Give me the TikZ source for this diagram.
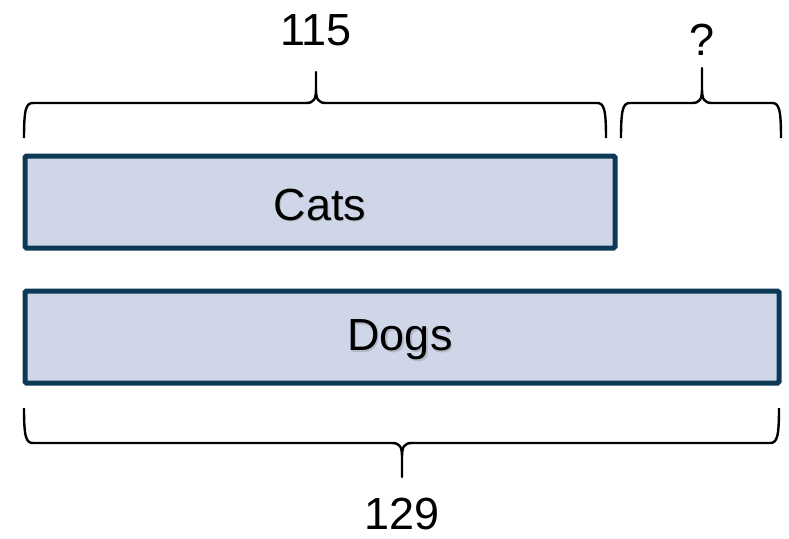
\documentclass[tikz,border=0pt]{standalone}
\usepackage{fontspec}
\setmainfont{Liberation Sans}
\definecolor{barfill}{HTML}{CFD6E8}
\definecolor{barline}{HTML}{0C3A56}
\definecolor{shade}{HTML}{A8ACB8}
% curly brace: left x, right x, centre x, end y, bar y, tip y, direction
\newcommand\curlybrace[7]{%
  \draw[brace line]
    (#1,#4) .. controls (#1,{#5+6*#7}) and ({#1+2},#5) .. ({#1+9},#5)
    -- ({#3-10},#5) .. controls ({#3-2},#5) and (#3,{#5-4*#7}) .. (#3,{#5-14*#7})
    -- (#3,#6) -- (#3,{#5-14*#7})
    .. controls (#3,{#5-4*#7}) and ({#3+2},#5) .. ({#3+10},#5)
    -- ({#2-9},#5) .. controls ({#2-2},#5) and (#2,{#5+6*#7}) .. (#2,#4);}
\tikzset{
  bar/.style={draw=barline, fill=barfill, line width=5pt, rounded corners=1.5pt},
  brace line/.style={draw=black, line width=2.4pt, line join=round},
  lbl/.style={font=\fontsize{45}{54}\selectfont, inner sep=0pt},
}
\begin{document}
\begin{tikzpicture}[x=1pt, y=-1pt]
\useasboundingbox (0,0) rectangle (789,538);
% the two bars
\path[bar] (25,156) rectangle (615,248);
\path[bar] (25,291) rectangle (779,383);
\node[lbl, text=shade, opacity=0.7] at (321.2,206.2) {Cats};
\node[lbl] (cats) at (320,205) {Cats};
\node[lbl, text=shade, opacity=0.7] at (401.2,341.2) {Dogs};
\node[lbl] (dogs) at (400,340) {Dogs};
% braces
\curlybrace{24}{606}{316}{138}{103}{72}{1}
\curlybrace{621}{781}{702}{138}{103}{68}{1}
\curlybrace{24}{779}{402}{408}{443}{477}{-1}
% brace labels
\node[lbl] (a) at (316,30) {115};
\node[lbl] (q) at (702,40) {?};
\node[lbl] (c) at (402,514) {129};
\end{tikzpicture}
\end{document}
